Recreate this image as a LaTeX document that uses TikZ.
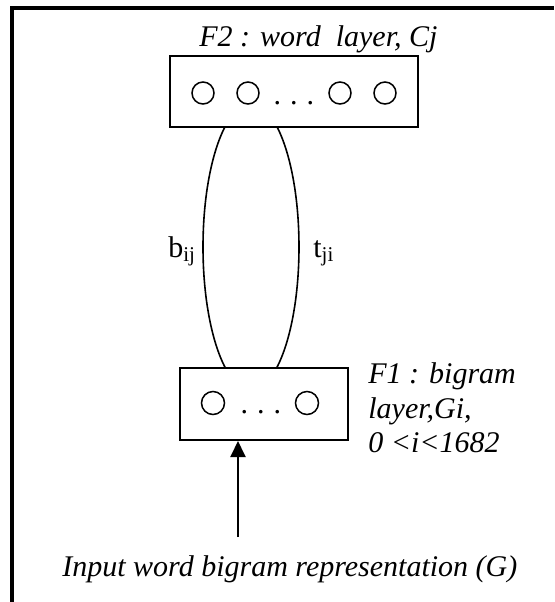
\documentclass[tikz,border=0pt]{standalone}
\usepackage{fontspec}
\setmainfont{Liberation Serif}
\usetikzlibrary{arrows.meta}
\begin{document}
\begin{tikzpicture}[x=0.5pt,y=-0.5pt,
  layerbox/.style={draw=black,fill=white,line width=1pt},
  unit/.style={draw=black,line width=0.75pt},
  lbl/.style={font=\fontsize{15}{18}\selectfont\itshape,inner sep=0pt,anchor=base west},
  wlbl/.style={font=\fontsize{15}{18}\selectfont,inner sep=0pt,anchor=base west},
  frameline/.style={line width=2pt},
  conn/.style={line width=1pt,-{Triangle[width=7.5pt,length=8pt]}}]
\useasboundingbox (0,0) rectangle (554,602);
% frame
\draw[frameline] (12,602) -- (12,8) -- (554,8);
% ellipse (connections)
\draw[line width=0.8pt] (251,247) ellipse [x radius=24pt, y radius=71.5pt];
% top layer
\node[layerbox,minimum width=124pt,minimum height=35.5pt,inner sep=0pt] (f2) at (294,91.5) {};
\draw[unit] (203,93) circle [radius=5.5pt];
\draw[unit] (248,93) circle [radius=5.5pt];
\draw[unit] (340,93) circle [radius=5.5pt];
\draw[unit] (385,93) circle [radius=5.5pt];
\node[wlbl,anchor=base] (f2dots) at (294,104) {.\hspace{0.3em}.\hspace{0.3em}.};
% bottom layer
\node[layerbox,minimum width=84pt,minimum height=36pt,inner sep=0pt] (f1) at (264,404) {};
\draw[unit] (213,403) circle [radius=5.75pt];
\draw[unit] (307,403) circle [radius=5.75pt];
\node[wlbl,anchor=base] (f1dots) at (261,413) {.\hspace{0.3em}.\hspace{0.3em}.};
% labels
\node[lbl] (f2lbl) at (199,46) {F2 : word\ \ layer, Cj};
\node[lbl] (f1a) at (368,383) {F1 : bigram};
\node[lbl] (f1b) at (368,418) {layer,Gi,};
\node[lbl] (f1c) at (368,452) {0 <i<1682};
\node[wlbl] (blbl) at (168,257) {b\textsubscript{ij}};
\node[wlbl] (tlbl) at (313,257) {t\textsubscript{ji}};
\node[lbl] (inlbl) at (62,576) {Input word bigram representation (G)};
% input arrow
\coordinate (instart) at (238,537);
\draw[conn] (instart) -- (instart |- f1.south);
\end{tikzpicture}
\end{document}
